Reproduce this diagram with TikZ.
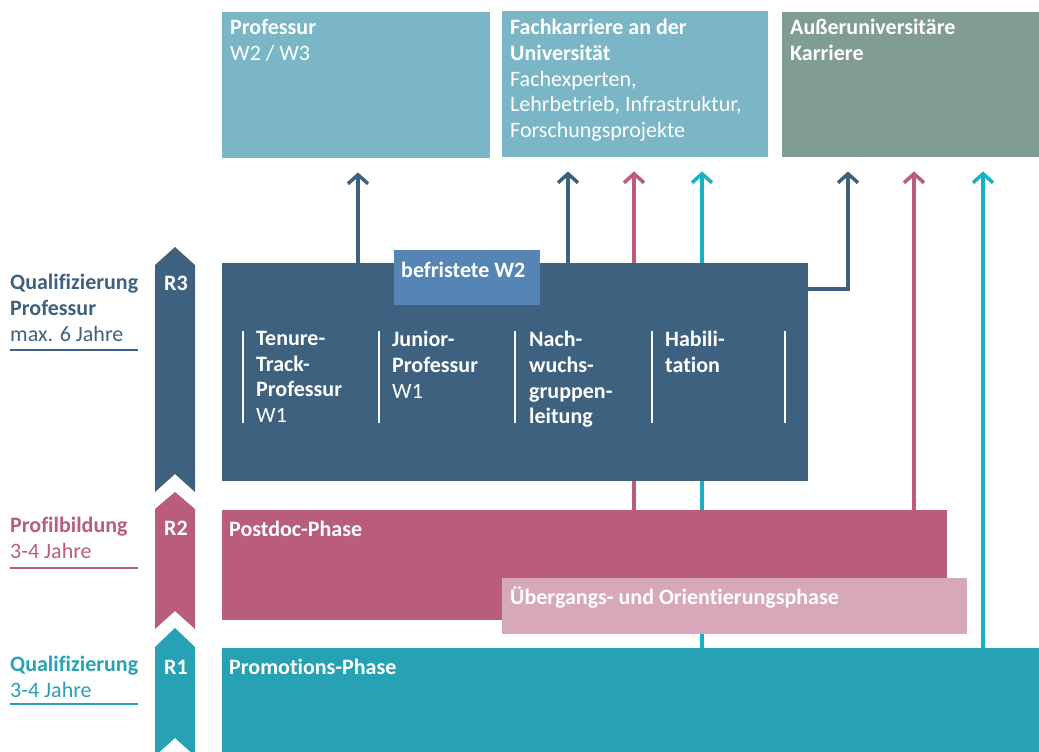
\documentclass[tikz,border=0pt]{standalone}
\usepackage{fontspec}
\setmainfont[Ligatures=NoCommon]{Carlito}
\usetikzlibrary{arrows.meta,backgrounds}

\definecolor{dunkelblau}{HTML}{3E6180}
\definecolor{mittelblau}{HTML}{5585B4}
\definecolor{hellblau}{HTML}{7AB6C5}
\definecolor{graugruen}{HTML}{819B95}
\definecolor{rosa}{HTML}{B95C7E}
\definecolor{hellrosa}{HTML}{D7A7BA}
\definecolor{petrol}{HTML}{27A1B4}
\definecolor{tuerkis}{HTML}{17B1C5}

\begin{document}
\begin{tikzpicture}[x=1pt,y=-1pt,
  box/.style={draw=none,inner sep=0,anchor=north west},
  txt/.style={anchor=north west,inner sep=0,align=left,text=white,
    font=\fontsize{22}{25.75}\selectfont\bfseries,execute at begin node=\strut},
  pfeil/.style={line width=3.5pt,-{Straight Barb[length=9pt,width=20pt]},shorten >=14pt},
  strich/.style={line width=2pt}]
\useasboundingbox (0,0) rectangle (1039,752);

% Ziele oben
\node[box,fill=hellblau,minimum width=268,minimum height=146] (prof) at (222,12) {};
\node[box,fill=hellblau,minimum width=266,minimum height=146] (fach) at (502,11) {};
\node[box,fill=graugruen,minimum width=257,minimum height=145] (ausser) at (782,12) {};

\node[txt] (proft) at (230,19) {Professur\\{\mdseries W2 / W3}};
\node[txt] (facht) at (510,19) {Fachkarriere an der\\Universität\\{\mdseries Fachexperten,}\\
  {\mdseries Lehrbetrieb, Infrastruktur,}\\{\mdseries Forschungsprojekte}};
\node[txt] (ausst) at (790,19) {Außeruniversitäre\\Karriere};

% Phasen
\node[box,fill=dunkelblau,minimum width=586,minimum height=218] (quali) at (222,263) {};
\node[box,fill=mittelblau,minimum width=146,minimum height=55] (w2) at (394,250) {};
\node[box,fill=rosa,minimum width=725,minimum height=110] (postdoc) at (222,510) {};
\node[box,fill=hellrosa,minimum width=465,minimum height=56] (uebergang) at (502,578) {};
\node[box,fill=petrol,minimum width=817,minimum height=104] (promo) at (222,648) {};

\node[txt] (w2t) at (401,259) {befristete W2};
\node[txt] (postdoct) at (229,518) {Postdoc-Phase};
\node[txt] (uebergangt) at (510,586) {Übergangs- und Orientierungsphase};
\node[txt] (promot) at (229,656) {Promotions-Phase};

\foreach \x in {243,379,515,652,785}
  \draw[strich,white] (\x,331) -- (\x,423);
\node[txt] (tenure) at (256,331) {Tenure-\\Track-\\Professur\\{\mdseries W1}};
\node[txt] (junior) at (392,331) {Junior-\\Professur\\{\mdseries W1}};
\node[txt] (nachwuchs) at (529,331) {Nach-\\wuchs-\\gruppen-\\leitung};
\node[txt] (habil) at (665,331) {Habili-\\tation};

% Pfeile nach oben
\coordinate (p1) at (358,0);
\coordinate (p2) at (568,0);
\coordinate (p3) at (634,0);
\coordinate (p4) at (702,0);
\coordinate (p5) at (848,0);
\coordinate (p6) at (914,0);
\coordinate (p7) at (983,0);
\coordinate (k) at (0,289);
\begin{scope}[on background layer]
\draw[pfeil,dunkelblau] (quali.north -| p1) -- (prof.south -| p1);
\draw[pfeil,dunkelblau] (quali.north -| p2) -- (fach.south -| p2);
\draw[pfeil,dunkelblau] (quali.east |- k) -| (ausser.south -| p5);
\draw[pfeil,rosa] (postdoc.north -| p3) -- (fach.south -| p3);
\draw[pfeil,rosa] (postdoc.north -| p6) -- (ausser.south -| p6);
\draw[pfeil,tuerkis] (promo.north -| p4) -- (fach.south -| p4);
\draw[pfeil,tuerkis] (promo.north -| p7) -- (ausser.south -| p7);
\end{scope}

% Stufen links
\fill[dunkelblau] (155,265) -- (175,247) -- (195,265) -- (195,492) -- (175,474) -- (155,492) -- cycle;
\fill[rosa] (155,509) -- (175,492) -- (195,509) -- (195,629) -- (175,611) -- (155,629) -- cycle;
\fill[petrol] (155,647) -- (175,628) -- (195,647) -- (195,752) -- (190.6,752) -- (175,738)
  -- (159.4,752) -- (155,752) -- cycle;
\node[txt,anchor=north] (r3) at (176,272) {R3};
\node[txt,anchor=north] (r2) at (176,517) {R2};
\node[txt,anchor=north] (r1) at (176,656) {R1};

\node[txt,text=dunkelblau] (l3) at (10,274) {Qualifizierung\\Professur\\{\mdseries max. 6 Jahre}};
\draw[strich,dunkelblau] (10,350) -- (138,350);
\node[txt,text=rosa] (l2) at (10,517) {Profilbildung\\{\mdseries 3-4 Jahre}};
\draw[strich,rosa] (10,568) -- (138,568);
\node[txt,text=petrol] (l1) at (10,656) {Qualifizierung\\{\mdseries 3-4 Jahre}};
\draw[strich,petrol] (10,704) -- (138,704);
\end{tikzpicture}
\end{document}
